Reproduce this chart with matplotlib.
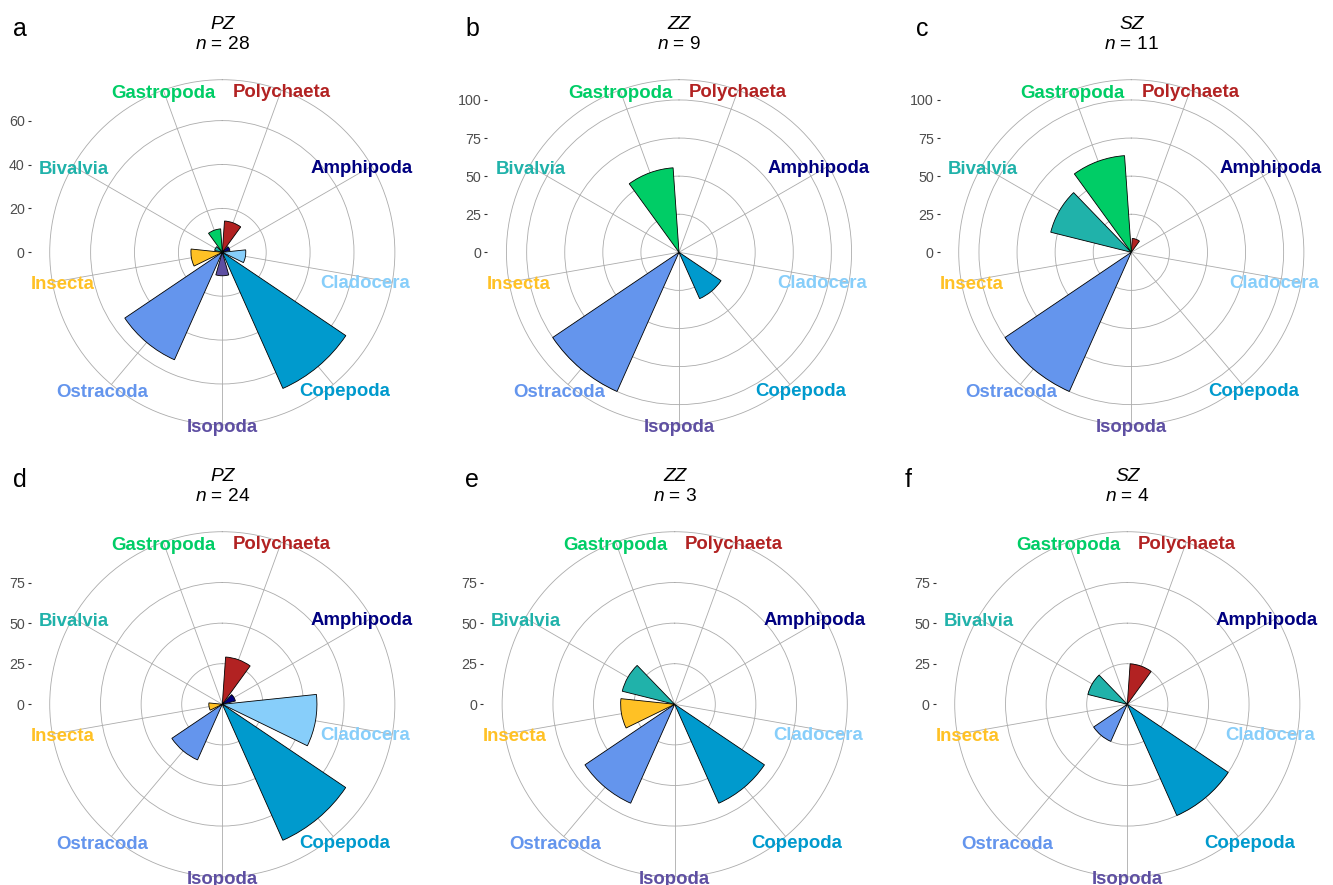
import matplotlib
matplotlib.use("Agg")
import matplotlib.pyplot as plt
import numpy as np

plt.rcParams["font.family"] = ["Liberation Sans", "DejaVu Sans"]
plt.rcParams["mathtext.fontset"] = "custom"
plt.rcParams["mathtext.rm"] = "Liberation Sans"
plt.rcParams["mathtext.it"] = "Liberation Sans:italic"

W, H = 1333, 885

# ---------------- data ----------------
categories = ["Polychaeta", "Amphipoda", "Cladocera", "Copepoda", "Isopoda",
              "Ostracoda", "Insecta", "Bivalvia", "Gastropoda"]
colors = ["#B22222", "#000080", "#87CEFA", "#009ACD", "#5E4FA2",
          "#6495ED", "#FFC125", "#20B2AA", "#00CD66"]

panel_letters = ["a", "b", "c", "d", "e", "f"]
zones = ["PZ", "ZZ", "SZ", "PZ", "ZZ", "SZ"]
n_values = [28, 9, 11, 24, 3, 4]

vals_a = [14.3, 3.6, 10.7, 67.9, 10.7, 53.6, 14.3, 3.6, 10.7]
vals_b = [0, 0, 0, 33.3, 0, 100, 0, 0, 55.6]
vals_c = [9.1, 0, 0, 0, 0, 100, 0, 54.5, 63.6]
vals_d = [29.2, 8.3, 58.3, 91.7, 0, 37.5, 8.3, 0, 0]
vals_e = [0, 0, 0, 66.7, 0, 66.7, 33.3, 33.3, 0]
vals_f = [25, 0, 0, 75, 0, 25, 0, 25, 0]
all_vals = [vals_a, vals_b, vals_c, vals_d, vals_e, vals_f]

breaks_a = [0, 20, 40, 60]
breaks_bc = [0, 25, 50, 75, 100]
breaks_def = [0, 25, 50, 75]
all_breaks = [breaks_a, breaks_bc, breaks_bc, breaks_def, breaks_def, breaks_def]

# upper end of the radial data range (maps to 0.4 of the panel, as in ggplot)
upper = [69.9, 100.7, 100.7, 94.5, 94.5, 94.5]

# ---------------- layout (pixels) ----------------
centers = [(222.3, 252.3), (679.0, 252.3), (1131.3, 252.3),
           (222.3, 704.3), (674.7, 704.3), (1127.3, 704.3)]
P = 383.5  # ggplot panel size in px
letter_pos = [(20.3, 35.5), (472.3, 36), (921.8, 35.7),
              (20.3, 487.3), (472.3, 487.3), (907.7, 487.3)]

# label nudges (px: right, down) relative to the outer-circle anchor
label_nudge = [(0, 0), (-10, 0), (-27, -1), (11, 4.5), (0, 0),
               (-9, 6), (10, 0), (1, 1), (0, 1)]

grid_col = "#ABABAB"
label_size = 13.4
cap_half = 0.716 * label_size * 100 / 72 / 2

fig = plt.figure(figsize=(W / 100, H / 100), dpi=100)
fig.patch.set_facecolor("white")

theta = (np.arange(len(categories)) + 0.5) * 2 * np.pi / len(categories)
bar_w = 0.8 * 2 * np.pi / len(categories)


def fx(x):
    return x / W


def fy(y):
    return 1 - y / H


for i in range(6):
    cx, cy = centers[i]
    up = upper[i]
    outer = up * 0.45 / 0.4
    brks = all_breaks[i]

    # y-axis overlay (ticks + labels at panel's left edge)
    axy = fig.add_axes([fx(cx - P / 2), fy(cy + P / 2), P / W, P / H])
    axy.set_xlim(0, 1)
    axy.set_ylim(-1.25 * up, 1.25 * up)
    axy.set_xticks([])
    axy.set_yticks(brks)
    axy.set_yticklabels([str(b) for b in brks])
    for s in axy.spines.values():
        s.set_visible(False)
    axy.patch.set_visible(False)
    axy.tick_params(axis="y", length=3 * 0.72, width=0.8, color="#333333",
                    labelcolor="#4D4D4D", labelsize=10.3, pad=2.7 * 0.72)

    # polar plot
    ax = fig.add_axes([fx(cx - 0.45 * P), fy(cy + 0.45 * P), 0.9 * P / W, 0.9 * P / H],
                      projection="polar")
    ax.set_theta_zero_location("N")
    ax.set_theta_direction(-1)
    ax.set_ylim(0, outer)
    ax.set_axisbelow(True)
    ax.set_xticks(theta)
    ax.set_xticklabels([])
    ax.set_yticks([b for b in brks if b > 0])
    ax.set_yticklabels([])
    ax.tick_params(length=0)
    ax.grid(True, color=grid_col, linewidth=0.6)
    ax.spines["polar"].set_color(grid_col)
    ax.spines["polar"].set_linewidth(0.6)

    ax.bar(theta, all_vals[i], width=bar_w, bottom=0, color=colors,
           edgecolor="black", linewidth=0.6, zorder=3)

    for k, name in enumerate(categories):
        ndx, ndy = label_nudge[k]
        ax.annotate(name, xy=(theta[k], outer), xycoords="data",
                    xytext=(ndx, -ndy - cap_half), textcoords="offset pixels",
                    ha="center", va="baseline", fontsize=label_size,
                    fontweight="bold", color=colors[k], annotation_clip=False,
                    zorder=5)

    # titles
    fig.text(fx(cx), fy(cy - 223), zones[i], ha="center", va="baseline",
             fontsize=13.8, style="italic")
    fig.text(fx(cx), fy(cy - 203.3), r"$\mathit{n}$ = %d" % n_values[i],
             ha="center", va="baseline", fontsize=13.8)

    lx, ly = letter_pos[i]
    fig.text(fx(lx), fy(ly), panel_letters[i], ha="center", va="baseline",
             fontsize=18)

fig.savefig("out.png", dpi=100, facecolor="white")
